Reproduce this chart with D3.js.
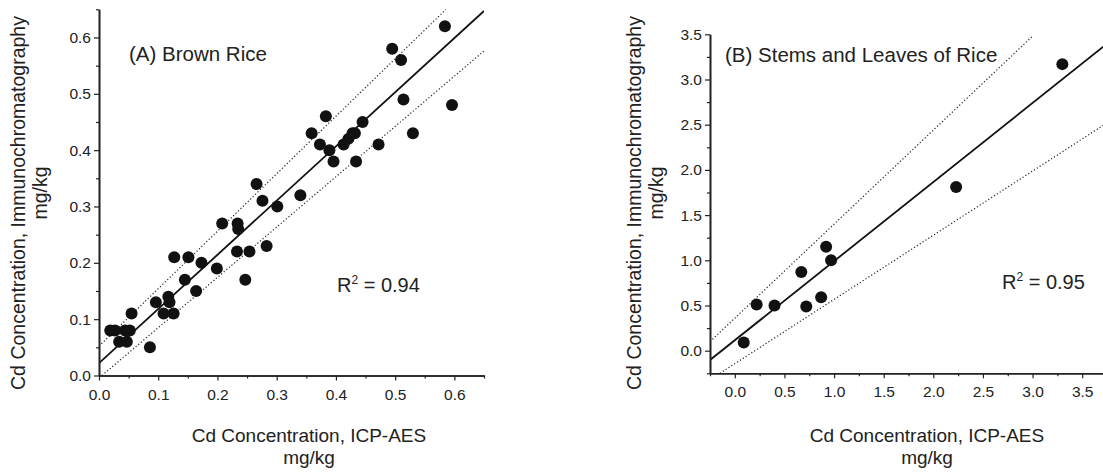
<!DOCTYPE html>
<html>
<head>
<meta charset="utf-8">
<script src="https://cdn.jsdelivr.net/npm/d3@7"></script>
<style>
  body { margin: 0; background: #fff; }
  svg text { font-family: "Liberation Sans", Arial, sans-serif; fill: #222; }
</style>
</head>
<body>
<script>
const width = 1103;
const height = 472;

// (A) brown rice: ICP-AES vs immunochromatography, mg/kg
const riceX = [0.019, 0.027, 0.034, 0.047, 0.044, 0.052, 0.055, 0.086, 0.096, 0.109, 0.126, 0.117, 0.119,
    0.127, 0.145, 0.151, 0.164, 0.173, 0.199, 0.208, 0.234, 0.235, 0.233, 0.247, 0.254, 0.266, 0.276,
    0.283, 0.301, 0.340, 0.359, 0.383, 0.373, 0.389, 0.396, 0.413, 0.421, 0.428, 0.432, 0.434, 0.445,
    0.472, 0.495, 0.510, 0.514, 0.530, 0.584, 0.596];
const riceY = [0.08, 0.08, 0.06, 0.06, 0.08, 0.08, 0.11, 0.05, 0.13, 0.11, 0.11, 0.14, 0.13,
    0.21, 0.17, 0.21, 0.15, 0.20, 0.19, 0.27, 0.27, 0.26, 0.22, 0.17, 0.22, 0.34, 0.31,
    0.23, 0.30, 0.32, 0.43, 0.46, 0.41, 0.40, 0.38, 0.41, 0.42, 0.43, 0.43, 0.38, 0.45,
    0.41, 0.58, 0.56, 0.49, 0.43, 0.62, 0.48];

// (B) stems and leaves of rice
const stemX = [0.09, 0.22, 0.40, 0.67, 0.72, 0.87, 0.92, 0.97, 2.23, 3.30];
const stemY = [0.09, 0.51, 0.50, 0.87, 0.49, 0.59, 1.15, 1.00, 1.81, 3.17];

// regression line and bands, [x, y] end points in data units
const riceFit = [[0, 0.022], [0.65, 0.647]];
const riceUpper = [[0, 0.052], [0.586, 0.65]];
const riceLower = [[0.005, 0], [0.65, 0.576]];
const stemFit = [[-0.25, -0.103], [3.75, 3.397]];
const stemUpper = [[-0.25, 0.10], [3.0, 3.48]];
const stemLower = [[-0.15, -0.25], [3.75, 2.52]];

// ticks
const riceMajor = [0, 0.1, 0.2, 0.3, 0.4, 0.5, 0.6];
const riceMinor = [0.05, 0.15, 0.25, 0.35, 0.45, 0.55, 0.65];
const stemMajor = [0, 0.5, 1.0, 1.5, 2.0, 2.5, 3.0, 3.5];
const stemMinor = [-0.25, 0.25, 0.75, 1.25, 1.75, 2.25, 2.75, 3.25];

const svg = d3.select('body').append('svg')
    .attr('width', width)
    .attr('height', height);

function drawPanel(p) {
    const x = d3.scaleLinear().domain(p.xDomain).range(p.xRange);
    const y = d3.scaleLinear().domain(p.yDomain).range(p.yRange);
    const g = svg.append('g');

    const clipId = 'clip-' + p.id;
    svg.append('clipPath').attr('id', clipId)
        .append('rect')
        .attr('x', p.xRange[0]).attr('y', p.yRange[1])
        .attr('width', p.xRange[1] - p.xRange[0])
        .attr('height', p.yRange[0] - p.yRange[1]);

    const plot = g.append('g').attr('clip-path', `url(#${clipId})`);
    const line = d3.line().x(d => x(d[0])).y(d => y(d[1]));

    // dotted bands
    [p.upper, p.lower].forEach(b => {
        plot.append('path')
            .attr('d', line(b))
            .attr('fill', 'none')
            .attr('stroke', '#222')
            .attr('stroke-width', 1.2)
            .attr('stroke-dasharray', '1.2,2.2');
    });
    plot.append('path')
        .attr('d', line(p.fit))
        .attr('fill', 'none')
        .attr('stroke', '#111')
        .attr('stroke-width', 1.8);

    // points
    g.selectAll('circle.pt')
        .data(p.xs.map((v, i) => [v, p.ys[i]]))
        .enter().append('circle')
        .attr('class', 'pt')
        .attr('cx', d => x(d[0]))
        .attr('cy', d => y(d[1]))
        .attr('r', 6)
        .attr('fill', '#111');

    // axes: minor ticks first, then labelled ticks
    const yPos = p.yRange[0];
    const xPos = p.xRange[0];
    const axisStyle = sel => {
        sel.selectAll('path.domain').attr('stroke', '#222').attr('stroke-width', 1.6);
        sel.selectAll('line').attr('stroke', '#222').attr('stroke-width', 1.2);
        sel.selectAll('text').attr('font-size', 15.5)
            .attr('font-family', '"Liberation Sans", Arial, sans-serif').attr('fill', '#222');
    };

    g.append('g').attr('transform', `translate(0,${yPos})`)
        .call(d3.axisBottom(x).tickValues(p.xMinor).tickSize(3).tickSizeOuter(0).tickFormat(''))
        .call(axisStyle);
    g.append('g').attr('transform', `translate(0,${yPos})`)
        .call(d3.axisBottom(x).tickValues(p.xMajor).tickSize(5).tickSizeOuter(0).tickPadding(8)
            .tickFormat(d3.format('.1f')))
        .call(axisStyle);

    g.append('g').attr('transform', `translate(${xPos},0)`)
        .call(d3.axisLeft(y).tickValues(p.yMinor).tickSize(3).tickSizeOuter(0).tickFormat(''))
        .call(axisStyle);
    g.append('g').attr('transform', `translate(${xPos},0)`)
        .call(d3.axisLeft(y).tickValues(p.yMajor).tickSize(5).tickSizeOuter(0).tickPadding(3)
            .tickFormat(d3.format('.1f')))
        .call(axisStyle);

    // panel title
    g.append('text')
        .attr('x', p.titleX).attr('y', p.titleY)
        .attr('font-size', 20.5)
        .text(p.title);

    // R squared
    const r = g.append('text')
        .attr('x', p.rX).attr('y', p.rY)
        .attr('font-size', 20);
    r.append('tspan').text('R');
    r.append('tspan').attr('font-size', 12).attr('dy', -8).text('2');
    r.append('tspan').attr('dy', 8).text(' = ' + p.r2);

    // x title, two lines
    g.append('text')
        .attr('text-anchor', 'middle')
        .attr('font-size', 19)
        .attr('x', p.xTitleX).attr('y', 442)
        .text('Cd Concentration, ICP-AES');
    g.append('text')
        .attr('text-anchor', 'middle')
        .attr('font-size', 19)
        .attr('x', p.xTitleX).attr('y', 464)
        .text('mg/kg');

    // y title
    const yt = g.append('text')
        .attr('text-anchor', 'middle')
        .attr('font-size', 19.5)
        .attr('transform', `translate(${p.yTitleX},${p.yTitleY}) rotate(-90)`);
    yt.append('tspan').attr('x', 0).attr('y', 0).text('Cd Concentration, Immunochromatography');
    yt.append('tspan').attr('x', 10).attr('y', 22).text('mg/kg');
}

drawPanel({
    id: 'a',
    xs: riceX, ys: riceY,
    xDomain: [0, 0.65], xRange: [99, 484],
    yDomain: [0, 0.65], yRange: [375.5, 9.3],
    xMajor: riceMajor, xMinor: riceMinor,
    yMajor: riceMajor, yMinor: riceMinor,
    fit: riceFit, upper: riceUpper, lower: riceLower,
    title: '(A) Brown Rice', titleX: 129, titleY: 61,
    r2: '0.94', rX: 337, rY: 292,
    xTitleX: 309, yTitleX: 25, yTitleY: 203
});

drawPanel({
    id: 'b',
    xs: stemX, ys: stemY,
    xDomain: [-0.25, 3.75], xRange: [710, 1107],
    yDomain: [-0.25, 3.5], yRange: [373.3, 34.3],
    xMajor: stemMajor, xMinor: stemMinor,
    yMajor: stemMajor, yMinor: stemMinor,
    fit: stemFit, upper: stemUpper, lower: stemLower,
    title: '(B) Stems and Leaves of Rice', titleX: 725, titleY: 62,
    r2: '0.95', rX: 1002, rY: 289,
    xTitleX: 927, yTitleX: 641, yTitleY: 203
});
</script>
</body>
</html>
